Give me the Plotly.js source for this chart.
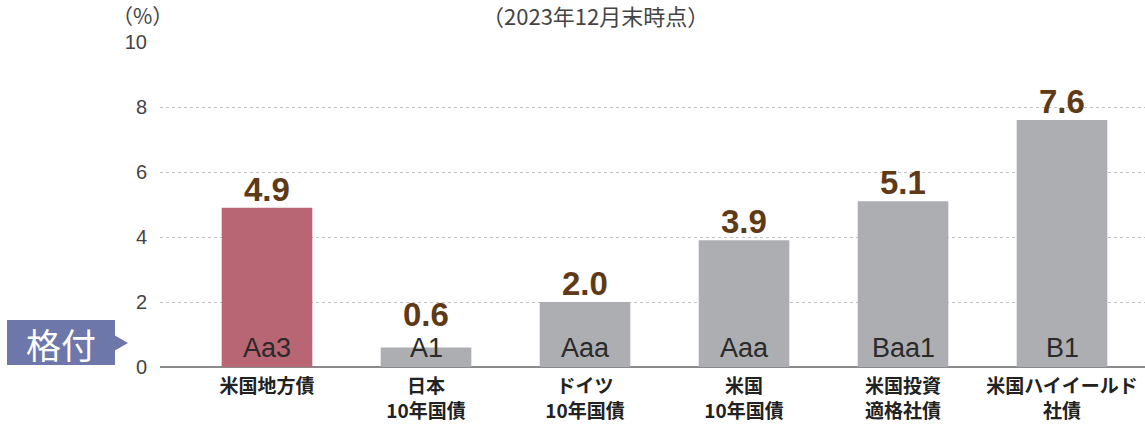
<!DOCTYPE html>
<html><head><meta charset="utf-8">
<script src="https://cdn.plot.ly/plotly-3.0.1.min.js"></script>
<style>body{margin:0;background:#fff}#c{width:1145px;height:427px}</style>
</head><body><div id="c"></div>
<script>
const categories = ['米国地方債', '日本<br>10年国債', 'ドイツ<br>10年国債', '米国<br>10年国債', '米国投資<br>適格社債', '米国ハイイールド<br>社債'];
const values = [4.9, 0.6, 2.0, 3.9, 5.1, 7.6];
const valueLabels = ['4.9', '0.6', '2.0', '3.9', '5.1', '7.6'];
const ratings = ['Aa3', 'A1', 'Aaa', 'Aaa', 'Baa1', 'B1'];
const barColors = ['#b86673', '#adaeb2', '#adaeb2', '#adaeb2', '#adaeb2', '#adaeb2'];
const yTicks = [0, 2, 4, 6, 8, 10];

const xs = categories.map((c, i) => i);
const jp = '"Noto Sans CJK JP", "Noto Sans", sans-serif';

const trace = {
  type: 'bar', x: xs, y: values, width: 0.57,
  marker: {color: barColors, line: {width: 0}},
  hoverinfo: 'skip'
};

const annotations = [];
xs.forEach((x, i) => {
  // value label sits above the bar, or above the rating text when the bar is short
  annotations.push({x: x, y: Math.max(values[i], 1.05), xref: 'x', yref: 'y', text: '<b>' + valueLabels[i] + '</b>',
    showarrow: false, yanchor: 'bottom', yshift: -2,
    font: {family: '"Liberation Sans", Arial, sans-serif', size: 33, color: '#5e3a16'}});
  annotations.push({x: x, y: 0, xref: 'x', yref: 'y', text: ratings[i],
    showarrow: false, yanchor: 'bottom', yshift: 2,
    font: {family: '"Liberation Sans", Arial, sans-serif', size: 27, color: '#2a2a2a'}});
});
annotations.push({x: (595 - 160) / 985, y: 1, xref: 'paper', yref: 'paper', yshift: 27,
  text: '（2023年12月末時点）', showarrow: false, yanchor: 'middle',
  font: {family: jp, size: 22, color: '#444'}});
annotations.push({x: (110 - 160) / 985, y: 1, xref: 'paper', yref: 'paper', yshift: 27,
  text: '（%）', showarrow: false, yanchor: 'middle',
  font: {family: jp, size: 21, color: '#444'}});
annotations.push({x: (61 - 160) / 985, y: (367 - 343) / 32.5, xref: 'paper', yref: 'y',
  text: '格付', showarrow: false, yanchor: 'middle', xanchor: 'center',
  font: {family: jp, size: 35, color: '#ffffff'}});

const px = p => (p - 160) / 985;
const py = p => (367 - p) / 32.5;
const shapes = [
  {type: 'rect', xref: 'paper', yref: 'y', x0: px(7), x1: px(115), y0: py(365), y1: py(320),
   fillcolor: '#6e77aa', line: {width: 0}, layer: 'above'},
  {type: 'path', xref: 'paper', yref: 'y', layer: 'above',
   path: `M ${px(114)} ${py(335)} L ${px(128)} ${py(343)} L ${px(114)} ${py(351)} Z`,
   fillcolor: '#6e77aa', line: {width: 0}}
];

const layout = {
  width: 1145, height: 427,
  margin: {l: 160, r: 0, t: 42, b: 60},
  paper_bgcolor: '#fff', plot_bgcolor: '#fff',
  showlegend: false, bargap: 0.43,
  xaxis: {range: [-0.673, 5.522], tickvals: xs, ticktext: categories.map(c => '<b>' + c.replace('<br>', '</b><br><b>') + '</b>'),
    showgrid: false, zeroline: false, showline: false, ticks: '', ticklabelstandoff: 6,
    tickfont: {family: jp, size: 19, color: '#222'}, fixedrange: true},
  yaxis: {range: [0, 10], tickvals: yTicks, showgrid: true, gridcolor: '#c2c2c2', griddash: '3px,3px', gridwidth: 1,
    zeroline: true, zerolinecolor: '#8a8a8a', zerolinewidth: 2, showline: false, ticks: '',
    ticklabelstandoff: 12,
    tickfont: {family: '"Liberation Sans", Arial, sans-serif', size: 20, color: '#444'}, fixedrange: true},
  annotations: annotations, shapes: shapes
};
Plotly.newPlot('c', [trace], layout, {displayModeBar: false, staticPlot: true});
</script></body></html>
